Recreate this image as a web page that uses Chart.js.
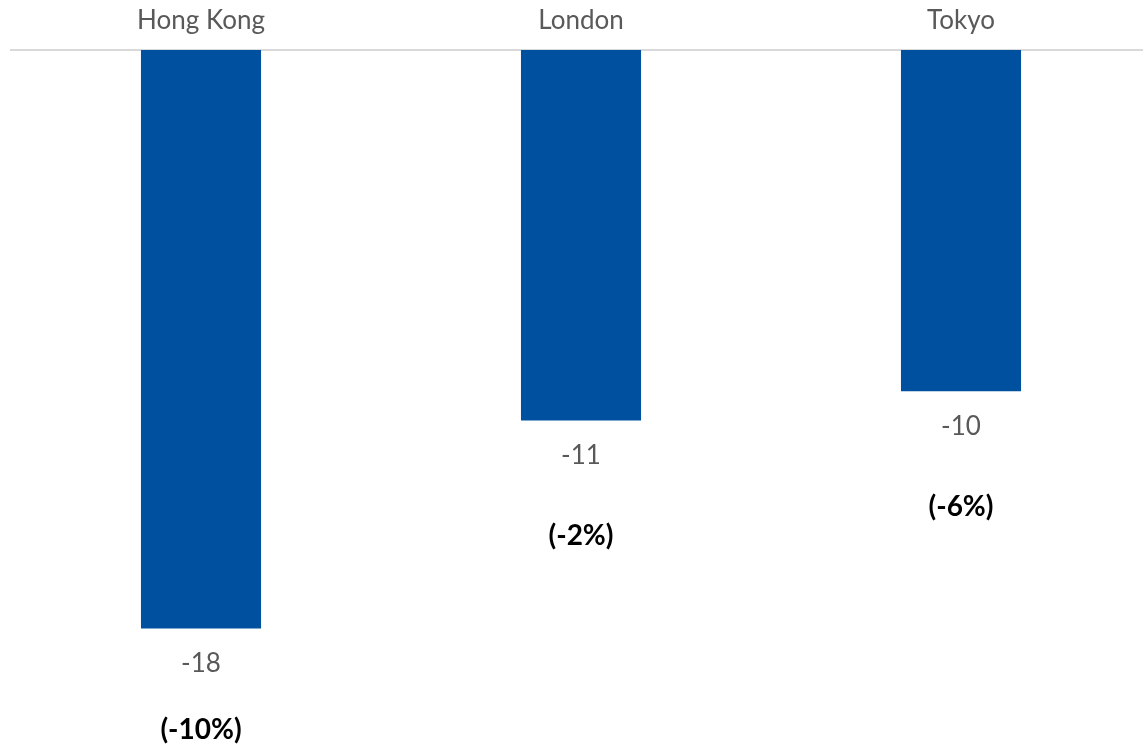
<!DOCTYPE html>
<html>
<head>
<meta charset="utf-8">
<script src="https://cdn.jsdelivr.net/npm/chart.js@4/dist/chart.umd.min.js"></script>
<style>
  html, body { margin: 0; padding: 0; background: #fff; overflow: hidden; }
  #wrap { position: absolute; left: 0; top: 0; width: 1152px; height: 747px; }
</style>
</head>
<body>
<div id="wrap"><canvas id="chart"></canvas></div>
<script>
// 都市名
var cities = ['Hong Kong', 'London', 'Tokyo'];
// 変化量（バーの長さ）
var changes = [-17.8, -11.4, -10.5];
// 変化率のラベル
var pctLabels = ['(-10%)', '(-2%)', '(-6%)'];

var FONT = 'Lato, "Open Sans", sans-serif';

// バーの下に値と変化率を描く
var barLabels = {
    id: 'barLabels',
    afterDatasetsDraw: function(chart, args, opts) {
        var ctx = chart.ctx;
        var meta = chart.getDatasetMeta(0);
        ctx.save();
        ctx.textAlign = 'center';
        ctx.textBaseline = 'middle';
        meta.data.forEach(function(bar, i) {
            ctx.fillStyle = '#595959';
            ctx.font = '26px ' + FONT;
            ctx.fillText(String(Math.round(changes[i])), bar.x, bar.y + 35);
            ctx.fillStyle = '#000';
            ctx.font = 'bold 28px ' + FONT;
            ctx.fillText(pctLabels[i], bar.x, bar.y + opts.pctOffset[i]);
        });
        ctx.restore();
    }
};

new Chart(document.getElementById('chart'), {
    type: 'bar',
    data: {
        labels: cities,
        datasets: [{
            data: changes,
            backgroundColor: '#0050A0',
            barPercentage: 1,
            categoryPercentage: 0.316
        }]
    },
    options: {
        responsive: true,
        maintainAspectRatio: false,
        animation: false,
        layout: { padding: { left: 11, right: 1, top: 0, bottom: 0 } },
        plugins: {
            legend: { display: false },
            tooltip: { enabled: false },
            barLabels: { pctOffset: [102, 116, 116] }
        },
        scales: {
            x: {
                position: 'top',
                grid: { display: false, drawTicks: false },
                border: { color: '#d9d9d9', width: 2 },
                ticks: {
                    color: '#595959',
                    font: { family: FONT, size: 26 },
                    padding: 14
                },
                afterFit: function(s) { s.height = 50; }
            },
            y: {
                display: false,
                min: -21.45,
                max: 0
            }
        }
    },
    plugins: [barLabels]
});
</script>
</body>
</html>
